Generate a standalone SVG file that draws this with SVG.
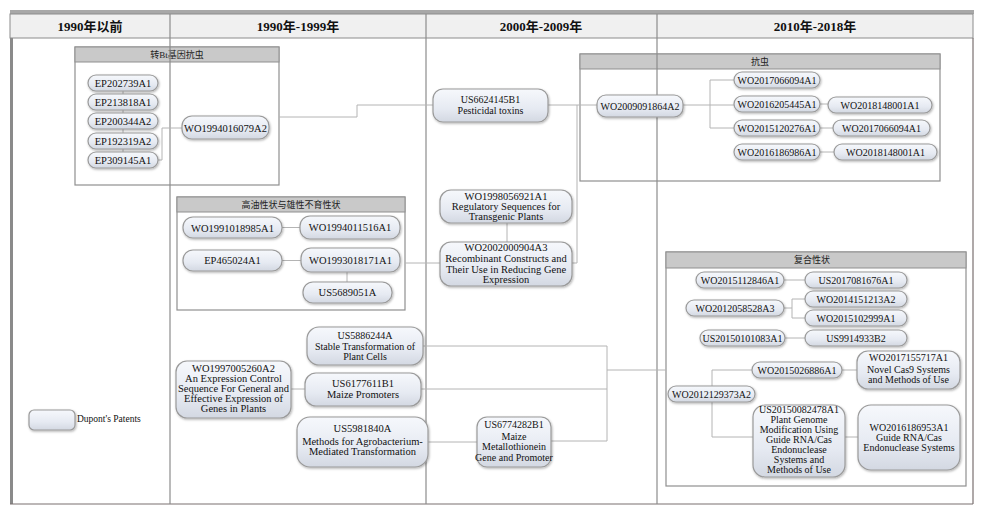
<svg xmlns="http://www.w3.org/2000/svg" width="1000" height="516" viewBox="0 0 1000 516">
<defs>
<linearGradient id="ng" x1="0" y1="0" x2="0" y2="1">
<stop offset="0" stop-color="#f6f8fc"/>
<stop offset="0.6" stop-color="#e6eaf2"/>
<stop offset="1" stop-color="#d3d8e2"/>
</linearGradient>
<filter id="sh" x="-10%" y="-20%" width="120%" height="150%">
<feDropShadow dx="0.8" dy="1.2" stdDeviation="0.8" flood-color="#000" flood-opacity="0.3"/>
</filter>
<style>
.n{fill:url(#ng);stroke:#9a9a9a;stroke-width:1.2;filter:url(#sh)}
.t{font-family:"Liberation Serif","DejaVu Serif","Noto Sans CJK SC",serif;font-size:10.5px;text-anchor:middle;fill:#111}
.s{font-size:10px}
.c{fill:none;stroke:#b4b4b4;stroke-width:1}
.gb{fill:none;stroke:#8f8f8f;stroke-width:1.2}
.gt{fill:#c9c9c9;stroke:#8f8f8f;stroke-width:1}
.gl{font-family:"Liberation Serif","DejaVu Serif","Noto Sans CJK SC",serif;font-size:9px;text-anchor:middle;fill:#222}
.h{font-family:"Liberation Serif","DejaVu Serif","Noto Sans CJK SC",serif;font-size:13px;font-weight:bold;text-anchor:middle;fill:#111}
.col{stroke:#8c8c8c;stroke-width:1.2}
</style>
</defs>
<rect width="1000" height="516" fill="#fff"/>

<g id="frame">
<rect x="10" y="10" width="964" height="4" fill="#a8a8a8"/>
<rect x="10" y="14" width="963" height="24" fill="#f0f0f0" stroke="#8c8c8c" stroke-width="1"/>
<rect x="10" y="38" width="3" height="466" fill="#8a8a8a"/>
<line x1="973" y1="38" x2="973" y2="504" stroke="#7a7070" stroke-width="1.2"/>
<line x1="10" y1="504" x2="973" y2="504" stroke="#7a7070" stroke-width="1.2"/>
<text class="h" x="90" y="31">1990年以前</text>
<text class="h" x="298" y="31">1990年-1999年</text>
<text class="h" x="541" y="31">2000年-2009年</text>
<text class="h" x="815" y="31">2010年-2018年</text>
</g>

<g id="group-bt">
<rect class="gb" x="75" y="47" width="204" height="138"/>
<rect class="gt" x="75" y="47" width="204" height="15"/>
<text class="gl" x="177" y="58">转Bt基因抗虫</text>
</g>
<g id="group-kangchong">
<rect class="gb" x="580" y="54" width="360" height="127"/>
<rect class="gt" x="580" y="54" width="360" height="15"/>
<text class="gl" x="760" y="65">抗虫</text>
</g>
<g id="group-gaoyou">
<rect class="gb" x="177" y="197" width="228" height="113"/>
<rect class="gt" x="177" y="197" width="228" height="15"/>
<text class="gl" x="291" y="208">高油性状与雄性不育性状</text>
</g>
<g id="group-fuhe">
<rect class="gb" x="666" y="252" width="300" height="234"/>
<rect class="gt" x="666" y="252" width="300" height="16"/>
<text class="gl" x="812" y="263">复合性状</text>
</g>

<g id="columns">
<line class="col" x1="170" y1="14" x2="170" y2="504"/>
<line class="col" x1="426" y1="14" x2="426" y2="504"/>
<line class="col" x1="657" y1="14" x2="657" y2="504"/>
</g>

<g id="connectors">
<path class="c" d="M123,83 V160"/>
<path class="c" d="M158,160 H162 V128 H182"/>
<path class="c" d="M279,117 H357 V105 H433"/>
<path class="c" d="M548,105 H597"/>
<path class="c" d="M572,263 H577 V105"/>
<path class="c" d="M683,105 H734"/>
<path class="c" d="M734,80 H710 V128 H734"/>
<path class="c" d="M820,104 H828"/>
<path class="c" d="M820,128 H833"/>
<path class="c" d="M820,152 H834"/>
<path class="c" d="M282,227.5 H300"/>
<path class="c" d="M282,260.5 H301"/>
<path class="c" d="M347,272 V282"/>
<path class="c" d="M405,263 H440"/>
<path class="c" d="M507,223 V242"/>
<path class="c" d="M291,389 H305"/>
<path class="c" d="M428,442 H477"/>
<path class="c" d="M423,346 H607 V441 H551"/>
<path class="c" d="M421,389 H607"/>
<path class="c" d="M607,370 H666"/>
<path class="c" d="M784,280 H805"/>
<path class="c" d="M784,308 H792"/>
<path class="c" d="M805,299 H792 V318 H805"/>
<path class="c" d="M785,338 H805"/>
<path class="c" d="M842,370 H857"/>
<path class="c" d="M752,370 H712 V437 H753"/>
<path class="c" d="M845,437 H858"/>
</g>

<g id="EP202739A1"><rect class="n" x="88" y="75" width="70" height="16" rx="8"/><text class="t" x="123" y="87">EP202739A1</text></g>
<g id="EP213818A1"><rect class="n" x="88" y="94" width="70" height="16" rx="8"/><text class="t" x="123" y="106">EP213818A1</text></g>
<g id="EP200344A2"><rect class="n" x="88" y="113" width="70" height="16" rx="8"/><text class="t" x="123" y="125">EP200344A2</text></g>
<g id="EP192319A2"><rect class="n" x="88" y="133" width="70" height="16" rx="8"/><text class="t" x="123" y="145">EP192319A2</text></g>
<g id="EP309145A1"><rect class="n" x="88" y="152" width="70" height="16" rx="8"/><text class="t" x="123" y="164">EP309145A1</text></g>
<g id="WO1994016079A2"><rect class="n" x="182" y="116" width="87" height="23" rx="10"/><text class="t" x="225.5" y="131.5">WO1994016079A2</text></g>

<g id="US6624145B1"><rect class="n" x="433" y="89" width="115" height="33" rx="10"/><text class="t s" x="490.5" y="103"><tspan x="490.5" y="103">US6624145B1</tspan><tspan x="490.5" y="114">Pesticidal toxins</tspan></text></g>
<g id="WO2009091864A2"><rect class="n" x="597" y="95" width="86" height="22" rx="9"/><text class="t s" x="640" y="110">WO2009091864A2</text></g>

<g id="WO2017066094A1"><rect class="n" x="734" y="72" width="86" height="16" rx="8"/><text class="t s" x="777" y="84">WO2017066094A1</text></g>
<g id="WO2016205445A1"><rect class="n" x="734" y="96" width="86" height="16" rx="8"/><text class="t s" x="777" y="108">WO2016205445A1</text></g>
<g id="WO2018148001A1"><rect class="n" x="828" y="97" width="104" height="16" rx="8"/><text class="t s" x="880" y="109">WO2018148001A1</text></g>
<g id="WO2015120276A1"><rect class="n" x="734" y="120" width="86" height="16" rx="8"/><text class="t s" x="777" y="132">WO2015120276A1</text></g>
<g id="WO2017066094A1-b"><rect class="n" x="833" y="120" width="97" height="16" rx="8"/><text class="t s" x="881.5" y="132">WO2017066094A1</text></g>
<g id="WO2016186986A1"><rect class="n" x="734" y="144" width="86" height="16" rx="8"/><text class="t s" x="777" y="156">WO2016186986A1</text></g>
<g id="WO2018148001A1-b"><rect class="n" x="834" y="144" width="103" height="16" rx="8"/><text class="t s" x="885.5" y="156">WO2018148001A1</text></g>

<g id="WO1991018985A1"><rect class="n" x="183" y="217" width="99" height="21" rx="10"/><text class="t" x="232.5" y="231.5">WO1991018985A1</text></g>
<g id="WO1994011516A1"><rect class="n" x="300" y="216" width="100" height="23" rx="10"/><text class="t" x="350" y="231">WO1994011516A1</text></g>
<g id="EP465024A1"><rect class="n" x="183" y="250" width="99" height="21" rx="10"/><text class="t" x="232.5" y="264">EP465024A1</text></g>
<g id="WO1993018171A1"><rect class="n" x="301" y="248" width="99" height="24" rx="10"/><text class="t" x="350.5" y="264">WO1993018171A1</text></g>
<g id="US5689051A"><rect class="n" x="303" y="282" width="89" height="21" rx="10"/><text class="t" x="347.5" y="296">US5689051A</text></g>

<g id="WO1998056921A1"><rect class="n" x="440" y="190" width="132" height="33" rx="11"/><text class="t"><tspan x="506" y="199.5">WO1998056921A1</tspan><tspan x="506" y="210">Regulatory Sequences for</tspan><tspan x="506" y="220">Transgenic Plants</tspan></text></g>
<g id="WO2002000904A3"><rect class="n" x="440" y="242" width="132" height="44" rx="11"/><text class="t"><tspan x="506" y="250.5">WO2002000904A3</tspan><tspan x="506" y="261.5">Recombinant Constructs and</tspan><tspan x="506" y="272.5">Their Use in Reducing Gene</tspan><tspan x="506" y="283">Expression</tspan></text></g>

<g id="US5886244A"><rect class="n" x="307" y="327" width="116" height="38" rx="12"/><text class="t s"><tspan x="365" y="339">US5886244A</tspan><tspan x="365" y="349.5">Stable Transformation of</tspan><tspan x="365" y="360">Plant Cells</tspan></text></g>
<g id="WO1997005260A2"><rect class="n" x="176" y="361" width="115" height="57" rx="11"/><text class="t"><tspan x="233.5" y="372">WO1997005260A2</tspan><tspan x="233.5" y="382">An Expression Control</tspan><tspan x="233.5" y="392">Sequence For General and</tspan><tspan x="233.5" y="402">Effective Expression of</tspan><tspan x="233.5" y="412">Genes in Plants</tspan></text></g>
<g id="US6177611B1"><rect class="n" x="305" y="373" width="116" height="33" rx="11"/><text class="t"><tspan x="363" y="387">US6177611B1</tspan><tspan x="363" y="398">Maize Promoters</tspan></text></g>
<g id="US5981840A"><rect class="n" x="297" y="417" width="131" height="50" rx="13"/><text class="t"><tspan x="362.5" y="432">US5981840A</tspan><tspan x="362.5" y="444.5">Methods for Agrobacterium-</tspan><tspan x="362.5" y="455">Mediated Transformation</tspan></text></g>
<g id="US6774282B1"><rect class="n" x="477" y="417" width="74" height="50" rx="10"/><text class="t s"><tspan x="514" y="428">US6774282B1</tspan><tspan x="514" y="440">Maize</tspan><tspan x="514" y="450">Metallothionein</tspan><tspan x="514" y="461">Gene and Promoter</tspan></text></g>

<g id="WO2015112846A1"><rect class="n" x="696" y="272" width="88" height="16" rx="8"/><text class="t s" x="740" y="284">WO2015112846A1</text></g>
<g id="US2017081676A1"><rect class="n" x="805" y="272" width="102" height="16" rx="8"/><text class="t s" x="856" y="284">US2017081676A1</text></g>
<g id="WO2012058528A3"><rect class="n" x="686" y="300" width="98" height="16" rx="8"/><text class="t s" x="735" y="312">WO2012058528A3</text></g>
<g id="WO2014151213A2"><rect class="n" x="805" y="291" width="102" height="16" rx="8"/><text class="t s" x="856" y="303">WO2014151213A2</text></g>
<g id="WO2015102999A1"><rect class="n" x="805" y="310" width="102" height="16" rx="8"/><text class="t s" x="856" y="322">WO2015102999A1</text></g>
<g id="US20150101083A1"><rect class="n" x="700" y="330" width="85" height="16" rx="8"/><text class="t s" x="742.5" y="342">US20150101083A1</text></g>
<g id="US9914933B2"><rect class="n" x="805" y="330" width="102" height="16" rx="8"/><text class="t s" x="856" y="342">US9914933B2</text></g>
<g id="WO2015026886A1"><rect class="n" x="752" y="362" width="90" height="16" rx="8"/><text class="t s" x="797" y="374">WO2015026886A1</text></g>
<g id="WO2017155717A1"><rect class="n" x="857" y="351" width="103" height="38" rx="11"/><text class="t s"><tspan x="908.5" y="361">WO2017155717A1</tspan><tspan x="908.5" y="372.5">Novel Cas9 Systems</tspan><tspan x="908.5" y="383">and Methods of Use</tspan></text></g>
<g id="WO2012129373A2"><rect class="n" x="668" y="386" width="87" height="16" rx="8"/><text class="t s" x="711.5" y="398">WO2012129373A2</text></g>
<g id="US20150082478A1"><rect class="n" x="753" y="405" width="92" height="72" rx="12"/><text class="t s"><tspan x="799" y="413">US20150082478A1</tspan><tspan x="799" y="423">Plant Genome</tspan><tspan x="799" y="433">Modification Using</tspan><tspan x="799" y="443">Guide RNA/Cas</tspan><tspan x="799" y="453">Endonuclease</tspan><tspan x="799" y="463">Systems and</tspan><tspan x="799" y="473">Methods of Use</tspan></text></g>
<g id="WO2016186953A1"><rect class="n" x="858" y="405" width="102" height="65" rx="13"/><text class="t s"><tspan x="909" y="430.5">WO2016186953A1</tspan><tspan x="909" y="441">Guide RNA/Cas</tspan><tspan x="909" y="451">Endonuclease Systems</tspan></text></g>

<g id="legend"><rect class="n" x="29" y="410" width="46" height="20" rx="5"/><text class="t s" x="77" y="422" style="text-anchor:start;font-size:9.5px">Dupont's Patents</text></g>
</svg>
